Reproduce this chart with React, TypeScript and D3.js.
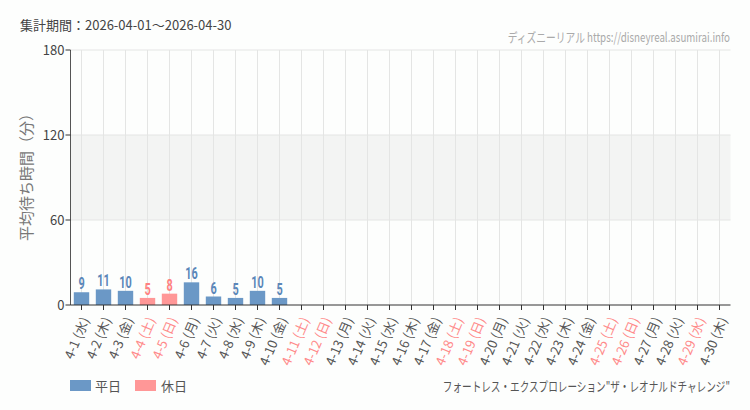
import * as d3 from "d3"

const dates = [
  "4-1", "4-2", "4-3", "4-4", "4-5", "4-6", "4-7", "4-8", "4-9", "4-10",
  "4-11", "4-12", "4-13", "4-14", "4-15", "4-16", "4-17", "4-18", "4-19", "4-20",
  "4-21", "4-22", "4-23", "4-24", "4-25", "4-26", "4-27", "4-28", "4-29", "4-30",
]
const dows = [
  "水", "木", "金", "土", "日", "月", "火", "水", "木", "金",
  "土", "日", "月", "火", "水", "木", "金", "土", "日", "月",
  "火", "水", "木", "金", "土", "日", "月", "火", "水", "木",
]
const holidays = ["4-4", "4-5", "4-11", "4-12", "4-18", "4-19", "4-25", "4-26", "4-29"]
const waits: (number | null)[] = [
  9, 11, 10, 5, 8, 16, 6, 5, 10, 5,
  null, null, null, null, null, null, null, null, null, null,
  null, null, null, null, null, null, null, null, null, null,
]
const yTicks = [0, 60, 120, 180]

const W = 750
const H = 410
const margin = { top: 50, right: 20, bottom: 105, left: 70.5 }

const JP = "'Noto Sans CJK JP', 'Noto Sans', sans-serif"

const BLUE = "#6b98c6"
const PINK = "#ff9797"

export default function App() {
  const x = d3
    .scaleBand<string>()
    .domain(dates)
    .range([margin.left, margin.left + 660])
    .paddingInner(0.3)
    .paddingOuter(0.15)
  const y = d3.scaleLinear().domain([0, 180]).range([H - margin.bottom, margin.top])
  const cx = (d: string) => (x(d) ?? 0) + x.bandwidth() / 2
  const isHoliday = (d: string) => holidays.includes(d)
  const x0 = margin.left
  const x1 = margin.left + 660

  return (
    <div style={{ position: "fixed", left: 0, top: 0, width: W, height: H }}>
      <svg width={W} height={H} style={{ display: "block", background: "#fdfefd" }}>
        {/* title */}
        <text x={20} y={30} fontFamily={JP} fontSize={13} fill="#444">
          集計期間：2026-04-01～2026-04-30
        </text>
        <text
          transform="translate(730,42) scale(0.75,1)"
          textAnchor="end"
          fontFamily={JP}
          fontSize={13}
          fill="#aaa"
        >
          ディズニーリアル https://disneyreal.asumirai.info
        </text>

        {/* band 60-120 */}
        <rect x={x0} y={y(120)} width={x1 - x0} height={y(60) - y(120)} fill="#f3f4f3" />

        {/* grid */}
        {dates.map((d) => (
          <line key={"v" + d} x1={cx(d)} x2={cx(d)} y1={y(180)} y2={y(0)} stroke="#e4e5e4" />
        ))}
        {yTicks.filter((t) => t > 0).map((t) => (
          <line key={"h" + t} x1={x0} x2={x1} y1={y(t)} y2={y(t)} stroke="#e4e5e4" />
        ))}

        {/* bars */}
        {dates.map((d, i) => {
          const v = waits[i]
          if (v == null) return null
          const hol = isHoliday(d)
          return (
            <g key={"b" + d}>
              <rect
                x={x(d)}
                y={y(v)}
                width={x.bandwidth()}
                height={y(0) - y(v)}
                fill={hol ? PINK : BLUE}
              />
              <text
                transform={`translate(${cx(d)},${y(v) - 3}) scale(0.68,1)`}
                textAnchor="middle"
                fontFamily="Roboto, sans-serif"
                fontWeight="bold"
                fontSize={16}
                fill={hol ? "#ff8080" : "#5b87b9"}
              >
                {v}
              </text>
            </g>
          )
        })}

        {/* y axis */}
        <line x1={x0} x2={x0} y1={y(180)} y2={y(0)} stroke="#555" />
        {yTicks.map((t) => (
          <g key={"yt" + t}>
            <line x1={x0 - 5} x2={x0} y1={y(t)} y2={y(t)} stroke="#333" />
            <text
              x={x0 - 6}
              y={y(t)}
              dy="0.35em"
              textAnchor="end"
              fontFamily={JP}
              fontSize={13}
              fill="#444"
            >
              {t}
            </text>
          </g>
        ))}
        <text
          transform={`translate(32,${(y(0) + y(180)) / 2 - 4}) rotate(-90)`}
          textAnchor="middle"
          fontFamily={JP}
          fontSize={15}
          fill="#777"
        >
          平均待ち時間（分）
        </text>

        {/* x axis */}
        <line x1={x0} x2={x1} y1={y(0)} y2={y(0)} stroke="#333" />
        {dates.map((d, i) => {
          const hol = isHoliday(d)
          return (
            <g key={"xt" + d}>
              <line x1={cx(d)} x2={cx(d)} y1={y(0)} y2={y(0) + 5} stroke="#333" />
              <text
                transform={`translate(${cx(d) + 4},${y(0) + 13}) rotate(-67)`}
                dy="0.35em"
                textAnchor="end"
                fontFamily={JP}
                fontSize={13}
                fill={hol ? "#ff8a8a" : "#555"}
              >
                {`${d} (${dows[i]})`}
              </text>
            </g>
          )
        })}

        {/* legend */}
        <rect x={70} y={380} width={21} height={11} fill={BLUE} />
        <text x={95} y={391} fontFamily={JP} fontSize={13} fill="#555">
          平日
        </text>
        <rect x={135} y={380} width={21} height={11} fill={PINK} />
        <text x={161} y={391} fontFamily={JP} fontSize={13} fill="#555">
          休日
        </text>

        <text
          transform="translate(730,391) scale(0.74,1)"
          textAnchor="end"
          fontFamily={JP}
          fontSize={13}
          fill="#555"
        >
          フォートレス・エクスプロレーション"ザ・レオナルドチャレンジ"
        </text>
      </svg>
    </div>
  )
}
